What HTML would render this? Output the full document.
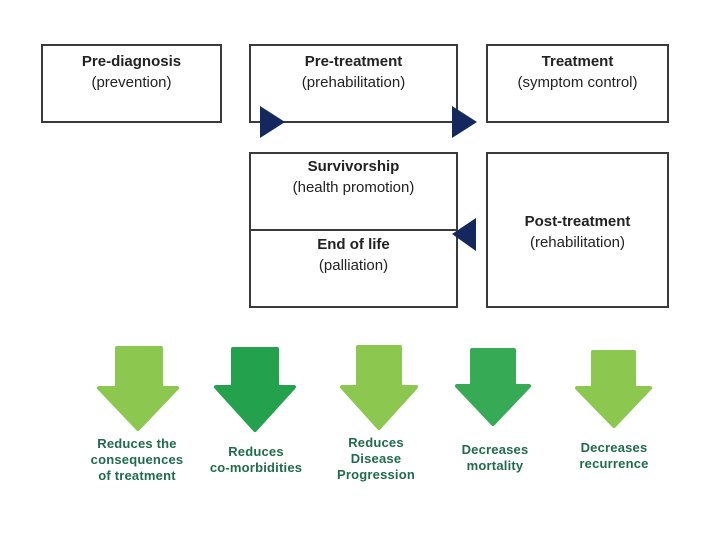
<!DOCTYPE html>
<html><head><style>
body{margin:0;width:720px;height:540px;background:#fff;position:relative;font-family:"Liberation Sans",sans-serif;overflow:hidden}
.b{position:absolute;border:2px solid #3a3a3a;box-sizing:border-box;text-align:center;font-size:15px;color:#222;line-height:21px}
.b b{font-size:15px}
.t{position:absolute;text-align:center;font-weight:bold;color:#1f6b4c;font-size:13px;line-height:16px;width:130px;letter-spacing:.2px}
</style></head><body>
<div class="b" style="left:41px;top:44px;width:181px;height:79px;padding-top:5px"><b>Pre-diagnosis</b><br>(prevention)</div>
<div class="b" style="left:249px;top:44px;width:209px;height:79px;padding-top:5px"><b>Pre-treatment</b><br>(prehabilitation)</div>
<div class="b" style="left:486px;top:44px;width:183px;height:79px;padding-top:5px"><b>Treatment</b><br>(symptom control)</div>
<div class="b" style="left:249px;top:152px;width:209px;height:156px"></div>
<div style="position:absolute;left:249px;top:229px;width:209px;height:2px;background:#3a3a3a"></div>
<div class="b" style="left:249px;top:156px;width:209px;border:none"><b>Survivorship</b><br>(health promotion)</div>
<div class="b" style="left:249px;top:234px;width:209px;border:none"><b>End of life</b><br>(palliation)</div>
<div class="b" style="left:486px;top:152px;width:183px;height:156px;padding-top:57px"><b>Post-treatment</b><br>(rehabilitation)</div>
<svg width="720" height="540" style="position:absolute;left:0;top:0">
<g fill="#14285e">
<polygon points="260,106 260,138 285,122"/>
<polygon points="452,106 452,138 477,122"/>
<polygon points="476,218 476,251 452,234"/>
</g>
<g stroke-linejoin="round" stroke-width="4">
<path d="M117,348h44v40h16l-39,41l-39,-41h18z" fill="#8cc850" stroke="#8cc850"/>
<path d="M233,349h44v38h17l-39,43l-39,-43h17z" fill="#23a14c" stroke="#23a14c"/>
<path d="M358,347h42v40h16l-37,41l-37,-41h16z" fill="#8cc850" stroke="#8cc850"/>
<path d="M472,350h42v36h15l-36,38l-36,-38h15z" fill="#36aa55" stroke="#36aa55"/>
<path d="M593,352h41v36h16l-36,38l-37,-38h16z" fill="#8cc850" stroke="#8cc850"/>
</g>
</svg>
<div class="t" style="left:72px;top:436px">Reduces the<br>consequences<br>of treatment</div>
<div class="t" style="left:191px;top:444px">Reduces<br>co-morbidities</div>
<div class="t" style="left:311px;top:435px">Reduces<br>Disease<br>Progression</div>
<div class="t" style="left:430px;top:442px">Decreases<br>mortality</div>
<div class="t" style="left:549px;top:440px">Decreases<br>recurrence</div>
</body></html>
